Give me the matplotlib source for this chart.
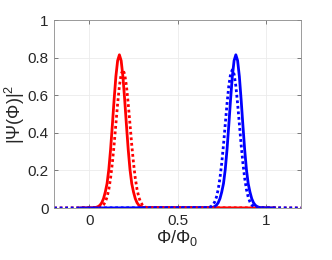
import matplotlib
matplotlib.use('Agg')
from matplotlib import pyplot as plt

# values
red_x = [-0.05, 0.03, 0.04, 0.05, 0.06, 0.07, 0.08, 0.09, 0.10, 0.11, 0.12, 0.13, 0.14,
         0.15, 0.16, 0.17, 0.18, 0.19, 0.20, 0.21, 0.22, 0.23, 0.24, 0.25, 0.26, 0.27,
         0.28, 0.29, 0.30, 0.31, 1.05]
red_y = [0, 0.002, 0.004, 0.008, 0.015, 0.028, 0.05, 0.085, 0.13, 0.205, 0.311, 0.440,
         0.576, 0.699, 0.784, 0.815, 0.784, 0.699, 0.576, 0.440, 0.311, 0.205, 0.13,
         0.085, 0.05, 0.028, 0.015, 0.008, 0.004, 0.002, 0]

red_dot_x = [-0.2, 0.05, 0.06, 0.07, 0.08, 0.09, 0.10, 0.11, 0.12, 0.13, 0.14, 0.15, 0.16,
             0.17, 0.18, 0.19, 0.20, 0.21, 0.22, 0.23, 0.24, 0.25, 0.26, 0.27, 0.28, 0.29,
             0.30, 0.31, 0.32, 0.33, 1.2]
red_dot_y = [0, 0.002, 0.004, 0.008, 0.017, 0.032, 0.058, 0.099, 0.159, 0.239, 0.336,
             0.446, 0.555, 0.649, 0.712, 0.735, 0.712, 0.649, 0.555, 0.446, 0.336, 0.239,
             0.159, 0.099, 0.058, 0.032, 0.017, 0.008, 0.004, 0.002, 0]

blue_x = [-0.05, 0.69, 0.70, 0.71, 0.72, 0.73, 0.74, 0.75, 0.76, 0.77, 0.78, 0.79, 0.80,
          0.81, 0.82, 0.83, 0.84, 0.85, 0.86, 0.87, 0.88, 0.89, 0.90, 0.91, 0.92, 0.93,
          0.94, 0.95, 0.96, 0.97, 1.05]
blue_y = [0, 0.002, 0.004, 0.008, 0.015, 0.028, 0.05, 0.085, 0.13, 0.205, 0.311, 0.440,
          0.576, 0.699, 0.784, 0.815, 0.784, 0.699, 0.576, 0.440, 0.311, 0.205, 0.13,
          0.085, 0.05, 0.028, 0.015, 0.008, 0.004, 0.002, 0]

blue_dot_x = [-0.2, 0.67, 0.68, 0.69, 0.70, 0.71, 0.72, 0.73, 0.74, 0.75, 0.76, 0.77,
              0.78, 0.79, 0.80, 0.81, 0.82, 0.83, 0.84, 0.85, 0.86, 0.87, 0.88, 0.89,
              0.90, 0.91, 0.92, 0.93, 0.94, 0.95, 1.2]
blue_dot_y = [0, 0.002, 0.004, 0.008, 0.017, 0.032, 0.058, 0.099, 0.159, 0.239, 0.336,
              0.446, 0.555, 0.649, 0.712, 0.735, 0.712, 0.649, 0.555, 0.446, 0.336, 0.239,
              0.159, 0.099, 0.058, 0.032, 0.017, 0.008, 0.004, 0.002, 0]

xticks = [0, 0.5, 1]
xtick_labels = ['0', '0.5', '1']
yticks = [0, 0.2, 0.4, 0.6, 0.8, 1]
ytick_labels = ['0', '0.2', '0.4', '0.6', '0.8', '1']

plt.rcParams['font.family'] = ['Liberation Sans', 'DejaVu Sans']
plt.rcParams['mathtext.fontset'] = 'custom'
plt.rcParams['mathtext.rm'] = 'Liberation Sans'
plt.rcParams['mathtext.it'] = 'Liberation Sans'

fig = plt.figure(figsize=(3.32, 2.60), dpi=100)
ax = fig.add_axes([0.163, 0.2, 0.744, 0.723])

ax.plot(red_x, red_y, color='red', lw=2)
ax.plot(blue_x, blue_y, color='blue', lw=2)
ax.plot(red_dot_x, red_dot_y, color='red', lw=2, linestyle=(0, (1, 1)))
ax.plot(blue_dot_x, blue_dot_y, color='blue', lw=2, linestyle=(0, (1, 1)))

ax.set_xlim(-0.2, 1.2)
ax.set_ylim(0, 1)
ax.set_xticks(xticks)
ax.set_xticklabels(xtick_labels)
ax.set_yticks(yticks)
ax.set_yticklabels(ytick_labels)
ax.grid(True, color='0.92', lw=0.6)
ax.set_axisbelow(True)

gray = '0.15'
for s in ax.spines.values():
    s.set_color('0.55')
    s.set_linewidth(0.6)
ax.tick_params(direction='in', length=3, width=0.6, color='0.4', labelsize=11,
               labelcolor=gray, top=True, right=True, pad=4)

ax.set_xlabel(r'$\Phi/\Phi_0$', fontsize=13, color=gray, labelpad=0)
ax.set_ylabel(r'$|\Psi(\Phi)|^2$', fontsize=13, color=gray, labelpad=0)

plt.savefig('out.png', dpi=100)
